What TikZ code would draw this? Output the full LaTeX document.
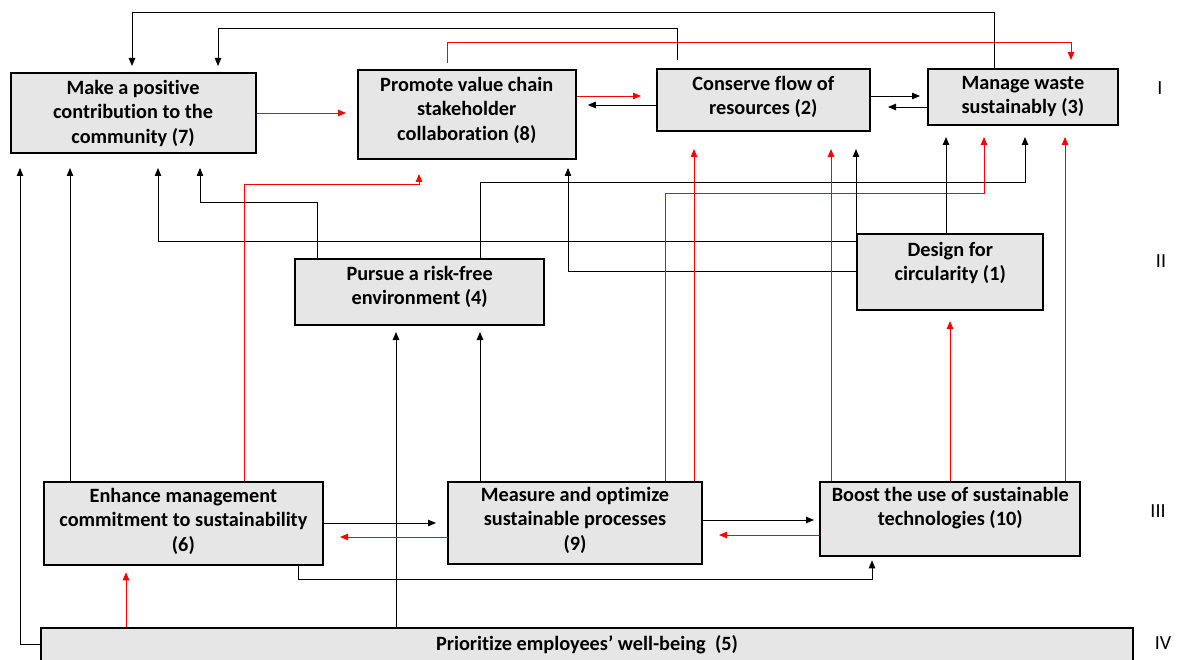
\documentclass[tikz,border=0pt]{standalone}
\usepackage{fontspec}
\setmainfont[Ligatures=CommonOff]{Carlito}
\usetikzlibrary{arrows.meta}
\definecolor{boxgray}{HTML}{E6E6E6}
\begin{document}
\begin{tikzpicture}[x=1pt,y=-1pt,
  box/.style={draw=black, line width=2pt, fill=boxgray, inner sep=0pt, anchor=north west},
  txt/.style={font=\bfseries\fontsize{20.3}{24.3}\selectfont, align=center, inner sep=0pt, anchor=north},
  blk/.style={draw=black, line width=0.9pt, -{Triangle[length=8pt,width=6.5pt]}},
  rd/.style={draw=red, line width=0.9pt, -{Triangle[length=8pt,width=6.5pt]}},
  lvl/.style={font=\fontsize{20}{22}\selectfont, inner sep=0pt}]
\useasboundingbox (0,0) rectangle (1182,660);

% boxes
\node[box, minimum width=244.9pt, minimum height=80pt] (n7) at (9.6,72) {};
\node[box, minimum width=218.1pt, minimum height=89pt] (n8) at (356.7,69) {};
\node[box, minimum width=212.6pt, minimum height=62pt] (n2) at (656,68) {};
\node[box, minimum width=190.3pt, minimum height=56pt] (n3) at (926.7,68) {};
\node[box, minimum width=186pt, minimum height=76pt] (n1) at (856.3,233) {};
\node[box, minimum width=249.4pt, minimum height=66.3pt] (n4) at (294,257.7) {};
\node[box, minimum width=278.3pt, minimum height=83.3pt] (n6) at (43.2,481) {};
\node[box, minimum width=254pt, minimum height=81.7pt] (n9) at (447,481) {};
\node[box, minimum width=260.4pt, minimum height=74.3pt] (n10) at (819,481) {};
\node[box, minimum width=1092pt, minimum height=45pt] (n5) at (40,626.7) {};

% texts
\node[txt] (t7) at ([yshift=-8pt]n7.north) {Make a positive\\contribution to the\\community (7)};
\node[txt] (t8) at ([yshift=-8pt]n8.north) {Promote value chain\\stakeholder\\collaboration (8)};
\node[txt] (t2) at ([yshift=-8pt]n2.north) {Conserve flow of\\resources (2)};
\node[txt] (t3) at ([yshift=-8pt]n3.north) {Manage waste\\sustainably (3)};
\node[txt] (t1) at ([yshift=-9pt]n1.north) {Design for\\circularity (1)};
\node[txt] (t4) at ([yshift=-8pt]n4.north) {Pursue a risk-free\\environment (4)};
\node[txt] (t6) at ([yshift=-7pt]n6.north) {Enhance management\\commitment to sustainability\\(6)};
\node[txt] (t9) at ([yshift=-6pt]n9.north) {Measure and optimize\\sustainable processes\\(9)};
\node[txt] (t10) at ([yshift=-6pt]n10.north) {Boost the use of sustainable\\technologies (10)};
\node[txt] (t5) at ([yshift=-8.5pt]n5.north) {Prioritize employees’ well-being~ (5)};

% level labels
\node[lvl] (L1) at (1160,88) {I};
\node[lvl] (L2) at (1161,261) {II};
\node[lvl] (L3) at (1158,511) {III};
\node[lvl] (L4) at (1163,643) {IV};

% column / row reference coordinates
\foreach \c in {20,70,126,132,158,200,218,244,298,317,396,419,447,480,568,665,677,694,831,856,872,946,950,984,994,1025,1065,1071}
  {\coordinate (c\c) at (\c,0);}
\foreach \r in {96,105,107,113,241,271,520,523,535,537,644}
  {\coordinate (r\r) at (0,\r);}

% connectors
\draw[blk, shorten >=6pt] (n3.north -| c994) -- (994,12) -- (132,12) -- (n7.north -| c132);
\draw[blk, shorten <=8pt, shorten >=6pt] (n2.north -| c677) -- (677,28) -- (218,28) -- (n7.north -| c218);
\draw[rd, shorten <=6pt, shorten >=8pt] (n8.north -| c447) -- (447,42) -- (1071,42) -- (n3.north -| c1071);
\draw[rd, shorten >=10.7pt] (n7.east |- r113) -- (n8.west |- r113);
\draw[rd, shorten >=15pt] (n8.east |- r96) -- (n2.west |- r96);
\draw[blk, shorten >=11pt] (n2.west |- r105) -- (n8.east |- r105);
\draw[blk, shorten >=6.7pt] (n2.east |- r96) -- (n3.west |- r96);
\draw[blk, shorten >=17.4pt] (n3.west |- r107) -- (n2.east |- r107);
\draw[blk, shorten >=14pt] (n5.west |- r644) -- (20,644) -- (n7.south -| c20);
\draw[blk, shorten >=14pt] (n6.north -| c70) -- (n7.south -| c70);
\draw[blk, shorten >=14pt] (n1.west |- r241) -- (158,241) -- (n7.south -| c158);
\draw[blk, shorten >=14pt] (n4.north -| c317) -- (317,202) -- (200,202) -- (n7.south -| c200);
\draw[rd, shorten >=14pt] (n6.north -| c244) -- (244,184) -- (419,184) -- (n8.south -| c419);
\draw[blk, shorten >=8pt] (n1.west |- r271) -- (568,271) -- (n8.south -| c568);
\draw[blk, shorten >=11pt] (n4.north -| c480) -- (480,182) -- (1025,182) -- (n3.south -| c1025);
\draw[rd, shorten >=11pt] (n9.north -| c665) -- (665,193) -- (984,193) -- (n3.south -| c984);
\draw[rd, shorten >=17pt] (n9.north -| c694) -- (n2.south -| c694);
\draw[rd, shorten >=17pt] (n10.north -| c831) -- (n2.south -| c831);
\draw[blk, shorten >=17pt] (n1.north -| c856) -- (n2.south -| c856);
\draw[blk, shorten >=11pt] (n1.north -| c946) -- (n3.south -| c946);
\draw[rd, shorten >=11pt] (n10.north -| c1065) -- (n3.south -| c1065);
\draw[rd, shorten >=10pt] (n10.north -| c950) -- (n1.south -| c950);
\draw[blk, shorten >=6pt] (n5.north -| c396) -- (n4.south -| c396);
\draw[blk, shorten >=6pt] (n9.north -| c480) -- (n4.south -| c480);
\draw[blk, shorten >=11pt] (n6.east |- r523) -- (n9.west |- r523);
\draw[rd, shorten >=16.5pt] (n9.west |- r537) -- (n6.east |- r537);
\draw[blk, shorten >=5pt] (n9.east |- r520) -- (n10.west |- r520);
\draw[rd, shorten >=16pt] (n10.west |- r535) -- (n9.east |- r535);
\draw[blk, shorten >=3pt] (n6.south -| c298) -- (298,579) -- (872,579) -- (n10.south -| c872);
\draw[rd, shorten >=6pt] (n5.north -| c126) -- (n6.south -| c126);
\end{tikzpicture}
\end{document}
